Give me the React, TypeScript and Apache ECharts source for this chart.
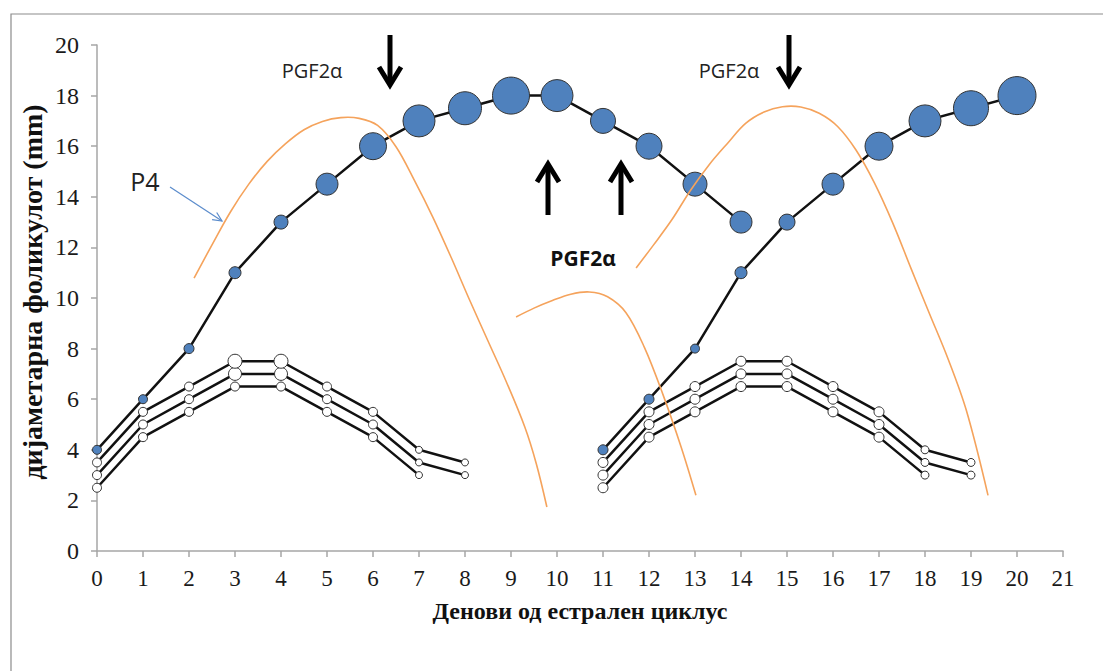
import React, { useEffect, useRef } from "react";
import * as echarts from "echarts";

// ---- data ----
const dominant1Days = [0, 1, 2, 3, 4, 5, 6, 7, 8, 9, 10, 11, 12, 13, 14];
const dominant1 = [4, 6, 8, 11, 13, 14.5, 16, 17, 17.5, 18, 18, 17, 16, 14.5, 13];
const dominant1Sizes = [9, 9, 10, 12, 14, 22, 27, 32, 33, 37, 32, 25, 26, 24, 22];

const dominant2Days = [11, 12, 13, 14, 15, 16, 17, 18, 19, 20];
const dominant2 = [4, 6, 8, 11, 13, 14.5, 16, 17, 17.5, 18];
const dominant2Sizes = [10, 10, 9, 12, 16, 22, 28, 32, 35, 38];

const sub1Days = [0, 1, 2, 3, 4, 5, 6, 7, 8];
const subA1 = [3.5, 5.5, 6.5, 7.5, 7.5, 6.5, 5.5, 4, 3.5];
const subB1 = [3, 5, 6, 7, 7, 6, 5, 3.5, 3];
const subC1 = [2.5, 4.5, 5.5, 6.5, 6.5, 5.5, 4.5, 3];
const subA1Sizes = [9, 9, 9, 14, 14, 9, 9, 7, 7];
const subB1Sizes = [9, 9, 9, 13, 13, 9, 9, 7, 7];
const subC1Sizes = [9, 9, 9, 9, 9, 9, 9, 7];

const sub2Days = [11, 12, 13, 14, 15, 16, 17, 18, 19];
const subA2 = [3.5, 5.5, 6.5, 7.5, 7.5, 6.5, 5.5, 4, 3.5];
const subB2 = [3, 5, 6, 7, 7, 6, 5, 3.5, 3];
const subC2 = [2.5, 4.5, 5.5, 6.5, 6.5, 5.5, 4.5, 3];
const sub2Sizes = [10, 10, 10, 10, 10, 10, 10, 8, 8];

// P4 (progesterone) curves, [day, value]
const p4Curve1: number[][] = [
  [2.11, 10.79], [2.5, 12.1], [2.9, 13.4], [3.3, 14.5], [3.7, 15.4],
  [4.1, 16.1], [4.5, 16.65], [4.9, 16.98], [5.3, 17.13], [5.7, 17.1],
  [6.1, 16.82], [6.5, 15.98], [6.9, 14.65], [7.3, 13.2], [7.7, 11.6],
  [8.1, 9.92], [8.5, 8.3], [8.9, 6.68], [9.3, 4.9], [9.55, 3.45],
  [9.78, 1.74],
];
const p4Curve2: number[][] = [
  [9.11, 9.25], [9.5, 9.6], [9.9, 9.9], [10.3, 10.15], [10.7, 10.24],
  [11.1, 10.05], [11.5, 9.42], [11.9, 8.05], [12.3, 6.2], [12.7, 4.1],
  [13.02, 2.2],
];
const p4Curve3: number[][] = [
  [11.72, 11.19], [12.1, 12.1], [12.5, 13.1], [12.9, 14.25], [13.3, 15.25],
  [13.7, 16.1], [14.1, 16.9], [14.5, 17.35], [14.9, 17.56], [15.3, 17.55],
  [15.7, 17.3], [16.1, 16.78], [16.5, 15.85], [16.9, 14.55], [17.3, 12.96],
  [17.7, 11.15], [18.1, 9.37], [18.5, 7.6], [18.9, 5.55], [19.37, 2.2],
];

const xTitle = "Денови од естрален циклус";
const yTitle = "дијаметарна фоликулот (mm)";
const pgfLabel = "PGF2α";
const p4Label = "P4";

const SERIF = "'Liberation Serif', 'Times New Roman', serif";
const SANS = "'Open Sans', 'Noto Sans', sans-serif";

function pts(days: number[], vals: number[], sizes: number[]) {
  return vals.map((v, i) => ({ value: [days[i], v], symbolSize: sizes[i] }));
}

function follicle(days: number[], vals: number[], sizes: number[], fill: string) {
  return {
    type: "line",
    data: pts(days, vals, sizes),
    symbol: "circle",
    lineStyle: { color: "#111", width: 2.5 },
    itemStyle: { color: fill, borderColor: "#333", borderWidth: 1 },
    z: 3,
    silent: true,
  };
}

// smooth curve drawn through the axis scales (api.coord) as one polyline
function p4(data: number[][]) {
  return {
    type: "custom",
    data,
    clip: false,
    z: 5,
    silent: true,
    renderItem: (params: any, api: any) => {
      if (params.dataIndex !== 0) return null;
      const points = data.map((p) => api.coord(p));
      return {
        type: "polyline",
        shape: { points, smooth: 0.35 },
        style: { stroke: "#f5a35c", lineWidth: 1.6, fill: "none" },
      };
    },
  };
}

function downArrow(x: number, top: number, tip: number) {
  return [
    { type: "line", shape: { x1: x, y1: top, x2: x, y2: tip - 3 }, style: { stroke: "#000", lineWidth: 5 } },
    {
      type: "polyline",
      shape: { points: [[x - 11, tip - 20], [x, tip - 2], [x + 11, tip - 20]] },
      style: { stroke: "#000", lineWidth: 5, fill: "none", lineJoin: "miter" },
    },
  ];
}

function upArrow(x: number, tip: number, bottom: number) {
  return [
    { type: "line", shape: { x1: x, y1: tip + 3, x2: x, y2: bottom }, style: { stroke: "#000", lineWidth: 5 } },
    {
      type: "polyline",
      shape: { points: [[x - 11, tip + 20], [x, tip + 2], [x + 11, tip + 20]] },
      style: { stroke: "#000", lineWidth: 5, fill: "none", lineJoin: "miter" },
    },
  ];
}

export default function App() {
  const ref = useRef<HTMLDivElement>(null);
  useEffect(() => {
    if (!ref.current) return;
    const chart = echarts.init(ref.current, undefined, { renderer: "svg" });
    chart.setOption({
      animation: false,
      backgroundColor: "#fff",
      grid: { left: 97, right: 40, top: 45, bottom: 120 },
      xAxis: {
        type: "value",
        min: 0,
        max: 21,
        interval: 1,
        name: xTitle,
        nameLocation: "middle",
        nameGap: 48,
        nameTextStyle: { fontFamily: SERIF, fontSize: 24, fontWeight: "bold", color: "#111" },
        axisLine: { show: true, lineStyle: { color: "#a6a6a6", width: 1.5 } },
        axisTick: { show: true, length: 6, lineStyle: { color: "#a6a6a6", width: 1.5 } },
        axisLabel: { fontFamily: SERIF, fontSize: 23, color: "#1a1a1a", margin: 16 },
        splitLine: { show: false },
      },
      yAxis: {
        type: "value",
        min: 0,
        max: 20,
        interval: 2,
        axisLine: { show: true, lineStyle: { color: "#a6a6a6", width: 1.5 } },
        axisTick: { show: true, length: 6, lineStyle: { color: "#a6a6a6", width: 1.5 } },
        axisLabel: { fontFamily: SERIF, fontSize: 24, color: "#1a1a1a", margin: 18 },
        splitLine: { show: false },
      },
      series: [
        follicle(sub1Days, subC1, subC1Sizes, "#fff"),
        follicle(sub1Days, subB1, subB1Sizes, "#fff"),
        follicle(sub1Days, subA1, subA1Sizes, "#fff"),
        follicle(sub2Days, subC2, sub2Sizes, "#fff"),
        follicle(sub2Days, subB2, sub2Sizes, "#fff"),
        follicle(sub2Days, subA2, sub2Sizes, "#fff"),
        follicle(dominant1Days, dominant1, dominant1Sizes, "#4f81bd"),
        follicle(dominant2Days, dominant2, dominant2Sizes, "#4f81bd"),
        p4(p4Curve1),
        p4(p4Curve2),
        p4(p4Curve3),
      ],
      graphic: [
        {
          type: "rect",
          shape: { x: 11, y: 14, width: 1200, height: 800 },
          style: { stroke: "#8c8c8c", lineWidth: 1.2, fill: "none" },
          silent: true,
          z: -10,
        },
        {
          type: "text",
          x: 32, y: 292,
          rotation: Math.PI / 2,
          style: { text: yTitle, font: `bold 28px ${SERIF}`, fill: "#111", textAlign: "center", textVerticalAlign: "middle" },
        },
        {
          type: "text",
          x: 312, y: 70,
          style: { text: pgfLabel, font: `20px ${SANS}`, fill: "#222", textAlign: "center", textVerticalAlign: "middle" },
        },
        {
          type: "text",
          x: 729, y: 70,
          style: { text: pgfLabel, font: `20px ${SANS}`, fill: "#222", textAlign: "center", textVerticalAlign: "middle" },
        },
        {
          type: "text",
          x: 583, y: 258,
          style: { text: pgfLabel, font: `bold 21px ${SANS}`, fill: "#111", textAlign: "center", textVerticalAlign: "middle" },
        },
        {
          type: "text",
          x: 145, y: 181,
          style: { text: p4Label, font: `25px ${SANS}`, fill: "#222", textAlign: "center", textVerticalAlign: "middle" },
        },
        { type: "line", shape: { x1: 170, y1: 187, x2: 222, y2: 221 }, style: { stroke: "#5b8ccc", lineWidth: 1.2 } },
        {
          type: "polyline",
          shape: { points: [[216.7, 212.5], [222, 221], [212.1, 219.6]] },
          style: { stroke: "#5b8ccc", lineWidth: 1.2, fill: "none" },
        },
        ...downArrow(390, 35, 87),
        ...downArrow(789, 35, 87),
        ...upArrow(548, 162, 215),
        ...upArrow(621, 162, 215),
      ],
    });
    return () => chart.dispose();
  }, []);
  return (
    <div
      ref={ref}
      style={{ position: "absolute", left: 0, top: 0, width: 1103, height: 671 }}
    />
  );
}
